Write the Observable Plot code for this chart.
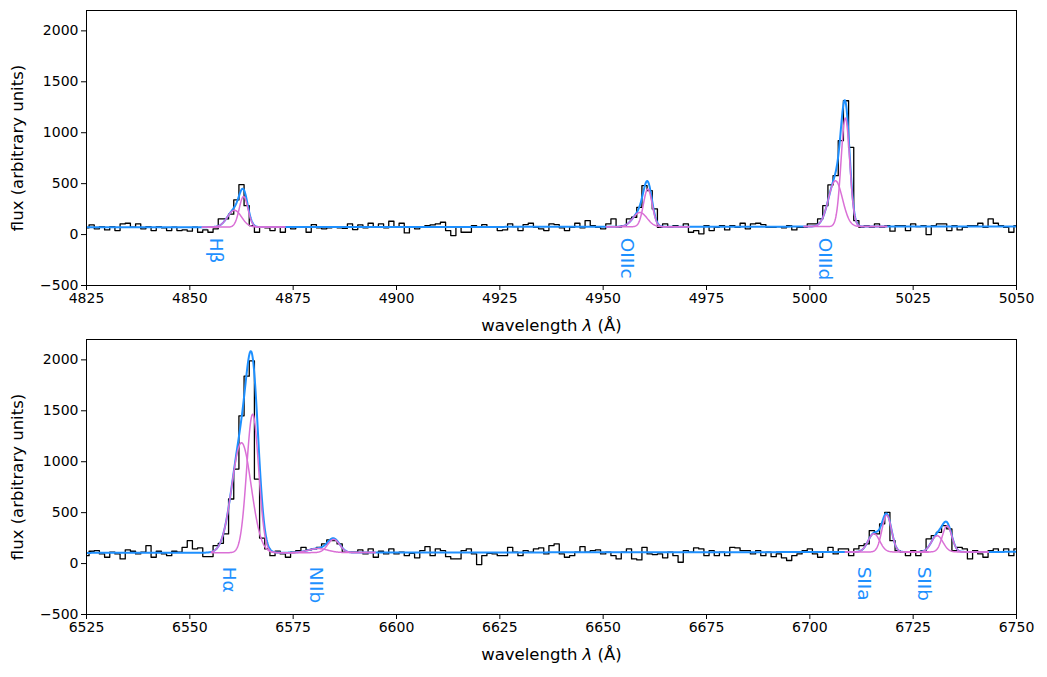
<!DOCTYPE html>
<html><head><meta charset="utf-8">
<script src="https://cdn.jsdelivr.net/npm/d3@7"></script>
<script src="https://cdn.jsdelivr.net/npm/@observablehq/plot@0.6"></script>
<style>
body{margin:0;background:#fff;}
#chart{width:1047px;height:677px;}
svg{display:block;}
</style></head><body><div id="chart"></div>
<script>
// ---------- data ----------
const binWidth = 1.25;
const start1 = 4825;
const flux1 = [66,95,56,79,46,79,39,105,111,72,
105,56,79,39,79,66,39,72,39,46,
33,72,23,46,23,56,154,154,200,340,
490,284,88,23,79,66,39,79,23,72,
56,79,72,23,98,66,56,66,72,66,
62,105,49,95,66,111,72,105,66,131,
72,111,16,72,56,72,88,95,105,121,
39,-10,72,23,23,88,72,98,72,72,
39,46,105,79,39,98,111,72,56,39,
105,98,66,39,72,111,66,137,88,72,
56,105,154,72,88,154,170,268,480,431,
252,72,105,72,88,79,105,23,39,7,
88,39,72,88,46,88,72,111,56,105,
111,98,72,72,79,66,88,46,72,72,
105,105,154,284,487,578,922,1314,856,137,
72,88,72,105,72,88,33,88,88,39,
105,79,88,0,88,105,105,39,88,46,
72,88,88,111,72,154,111,88,72,23,
88];
const start2 = 6525;
const flux2 = [78,121,127,95,62,111,95,46,134,121,
95,111,176,62,121,95,78,121,111,160,
225,144,154,69,69,176,199,291,634,928,
1451,1840,1990,830,250,144,78,121,95,62,
111,127,160,134,144,160,193,232,225,193,
111,111,111,134,95,144,62,121,95,144,
95,111,78,101,56,127,167,78,144,127,
68,46,46,127,144,95,-10,78,101,95,
78,78,160,111,78,127,111,144,154,95,
177,193,95,62,78,111,167,111,127,134,
95,111,78,46,111,144,46,36,160,95,
88,95,56,111,78,13,127,111,154,144,
78,127,78,111,78,160,154,127,127,95,
127,78,111,68,95,56,30,78,95,127,
144,95,62,111,160,95,144,144,78,144,
177,193,324,291,390,503,225,127,111,78,
127,78,127,242,275,307,372,340,127,160,
144,46,127,95,62,127,144,111,144,78,
144];

// fitted model: continuum at the two ends of each panel, gaussian components
const continuum1 = [72, 80];
const continuum2 = [105, 115];
const compLine1   = ["Hβ","Hβ","OIIIc","OIIIc","OIIId","OIIId"];
const compCenter1 = [4863.0, 4860.8, 4960.8, 4958.9, 5008.6, 5006.2];
const compAmp1    = [300, 165, 370, 140, 1065, 450];
const compSigma1  = [1.05, 1.7, 1.05, 1.7, 1.05, 1.7];
const compLine2   = ["Hα","Hα","NIIb","NIIb","SIIa","SIIa","SIIb","SIIb"];
const compCenter2 = [6565.2, 6562.5, 6584.8, 6581.0, 6718.6, 6715.5, 6733.2, 6730.8];
const compAmp2    = [1360, 1080, 130, 40, 362, 180, 255, 160];
const compSigma2  = [1.45, 2.35, 1.45, 2.35, 1.15, 1.4, 1.15, 1.4];

const lineNames1 = ["Hβ","OIIIc","OIIId"];
const lineCenter1 = [4863.0, 4960.8, 5008.6];
const labelX1 = [4856.2, 4955.7, 5003.6];
const lineNames2 = ["Hα","NIIb","SIIa","SIIb"];
const lineCenter2 = [6565.2, 6584.8, 6718.6, 6733.2];
const labelX2 = [6559.4, 6580.4, 6713.2, 6727.5];

const xTicks1 = [4825,4850,4875,4900,4925,4950,4975,5000,5025,5050];
const xTicks2 = [6525,6550,6575,6600,6625,6650,6675,6700,6725,6750];
const yTicks = [-500,0,500,1000,1500,2000];
const xLabel = "wavelength λ (Å)";
const yLabel = "flux (arbitrary units)";

const BLUE = "#1E90FF", PINK = "#DA70D6";

function panel(cfg) {
  const [x0, x1] = cfg.domain;
  const cont = w => cfg.continuum[0] + (cfg.continuum[1] - cfg.continuum[0]) * (w - x0) / (x1 - x0);
  const g = (w, k) => cfg.amp[k] * Math.exp(-0.5 * ((w - cfg.center[k]) / cfg.sigma[k]) ** 2);
  const grid = d3.range(x0, x1 + 0.001, 0.1);
  const dataRows = cfg.flux.map((f, i) => ({w: cfg.start + i * binWidth, f}));
  const total = grid.map(w => ({w, f: cont(w) + cfg.center.reduce((s, _, k) => s + g(w, k), 0)}));
  const comps = [];
  cfg.center.forEach((c, k) => {
    const lc = cfg.lineCenter[cfg.lineNames.indexOf(cfg.compLine[k])];
    grid.filter(w => w >= lc - 10 && w <= lc + 10).forEach(w => comps.push({w, f: cont(w) + g(w, k), k}));
  });
  const labels = cfg.lineNames.map((n, i) => ({n, x: cfg.labelX[i]}));
  const fmtY = d => d < 0 ? "\u2212" + Math.abs(d) : String(d);
  return Plot.plot({
    width: 1047, height: cfg.height,
    marginTop: cfg.mt, marginBottom: cfg.mb, marginLeft: 86, marginRight: 31,
    style: {fontFamily: "'DejaVu Sans', sans-serif", fontSize: "14px", color: "black", background: "white", overflow: "visible"},
    x: {domain: cfg.domain},
    y: {domain: [-500, 2200]},
    marks: [
      Plot.lineY(dataRows, {x: "w", y: "f", curve: "step", stroke: "black", strokeWidth: 1.3, clip: true}),
      Plot.lineY(total, {x: "w", y: "f", stroke: BLUE, strokeWidth: 2, clip: true}),
      Plot.lineY(comps, {x: "w", y: "f", z: "k", stroke: PINK, strokeWidth: 1.5, clip: true}),
      Plot.text(labels, {x: "x", y: -30, text: "n", rotate: 90, textAnchor: "start", lineAnchor: "middle", fill: BLUE, fontSize: 18.5}),
      Plot.frame({stroke: "black", strokeWidth: 1}),
      Plot.axisX({ticks: cfg.xTicks, tickFormat: d => String(d), tickSize: 5, tickPadding: 3, label: null, fontSize: 14}),
      Plot.axisY({ticks: yTicks, tickFormat: fmtY, tickSize: 5, tickPadding: 3, label: null, fontSize: 14}),
      Plot.text([xLabel], {frameAnchor: "bottom", dy: 45, textAnchor: "middle", fontSize: 16.5}),
      Plot.text([yLabel], {frameAnchor: "left", dx: -69, rotate: -90, textAnchor: "middle", fontSize: 16.5})
    ]
  });
}

const chart = document.getElementById("chart");
const p1 = panel({domain: [4825, 5050], start: start1, flux: flux1, continuum: continuum1,
  compLine: compLine1, center: compCenter1, amp: compAmp1, sigma: compSigma1,
  lineNames: lineNames1, lineCenter: lineCenter1, labelX: labelX1, xTicks: xTicks1,
  height: 338, mt: 10, mb: 53});
const p2 = panel({domain: [6525, 6750], start: start2, flux: flux2, continuum: continuum2,
  compLine: compLine2, center: compCenter2, amp: compAmp2, sigma: compSigma2,
  lineNames: lineNames2, lineCenter: lineCenter2, labelX: labelX2, xTicks: xTicks2,
  height: 339, mt: 1, mb: 63});
chart.appendChild(p1);
chart.appendChild(p2);

// italic lambda in the x-axis labels
d3.selectAll("#chart text").each(function() {
  if (this.textContent === xLabel) {
    const t = d3.select(this);
    t.text(null);
    t.append("tspan").text("wavelength ");
    t.append("tspan").attr("font-style", "italic").text("λ");
    t.append("tspan").text(" (Å)");
  }
});
</script></body></html>
